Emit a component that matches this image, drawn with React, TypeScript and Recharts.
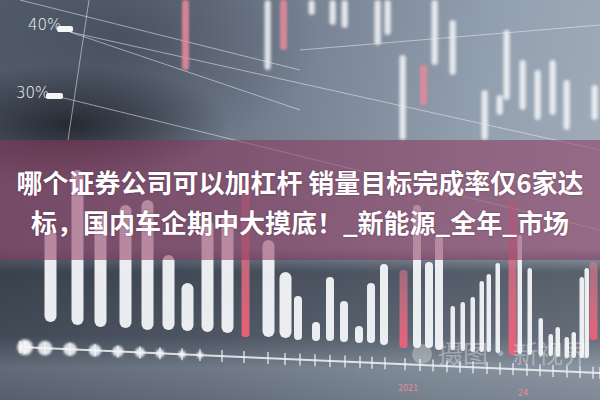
import React from "react";
import { ComposedChart, Bar, Line, XAxis, YAxis } from "recharts";

const W = 600;
const H = 400;

// lower row of bars: x position, top and bottom level (picture y, turned into values below)
const nearX = [50, 77, 100, 125, 147, 168, 187, 207, 227, 268, 285];
const nearTop = [230, 170, 215, 205, 200, 255, 283, 220, 215, 240, 272];
const nearBottom = [322, 325, 327, 328, 330, 330, 331, 332, 333, 337, 338];

const midX = [298, 316, 330, 344, 359, 371, 384, 417, 429, 439];
const midTop = [296, 322, 277, 301, 326, 283, 264, 205, 262, 235];
const midBottom = [340, 341, 341, 342, 343, 343, 345, 348, 348, 350];

const farX = [453, 463, 473, 482, 489, 498, 520, 530, 541, 551, 558, 567, 574, 582, 587];
const farTop = [306, 302, 297, 281, 274, 263, 235, 268, 318, 334, 327, 337, 332, 277, 268];
const farBottom = [350, 351, 352, 352, 352, 353, 354, 355, 356, 356, 357, 358, 358, 358, 358];

const pinkX = [245, 403, 512, 593];
const pinkTop = [180, 270, 200, 262];
const pinkBottom = [337, 348, 355, 340];

// upper (blurred) bars
const upperX = [268, 312, 333, 345, 378, 388, 403, 435, 453, 485, 500, 507, 523, 538, 553, 567, 595];
const upperTop = [0, 0, 0, 0, 0, 0, 55, 0, 20, 90, 95, 30, 60, 70, 60, 80, 85];
const upperBottom = [70, 15, 25, 28, 45, 35, 140, 65, 75, 140, 115, 100, 110, 120, 115, 130, 120];

const upperPinkX = [185, 283, 423];
const upperPinkTop = [0, 0, 65];
const upperPinkBottom = [70, 50, 105];

// thin diagonal guide lines of the photographed panel: [x1, y1, x2, y2]
const guideLines = [
  [70, 32, 600, 150],
  [70, 32, 300, 110],
  [60, 97, 600, 230],
  [20, 0, 300, 70],
  [89, 0, 68, 140],
  [300, 50, 600, 25],
];

// bottom timeline ticks and the blurred dots on its left
const axisTicks = [20, 25, 45, 70, 95, 118, 140, 160, 182, 200, 222, 244, 268, 285, 300, 315, 330, 345, 360, 372, 385, 405, 420, 433, 447, 460, 473, 487, 500, 513, 527, 540, 553, 567, 580, 593, 600];
const axisDots = [25, 45, 70, 95, 118, 140, 160, 182, 200];

const title1 = "哪个证券公司可以加杠杆 销量目标完成率仅6家达";
const title2 = "标，国内车企期中大摸底！_新能源_全年_市场";

const rows = (xs: number[], tops: number[], bottoms: number[]) =>
  xs.map((x, i) => ({ x, range: [H - bottoms[i], H - tops[i]] }));

const axisPy = (x: number) => 347 + ((x - 20) * 26) / 580;
const timelineDots = axisDots.map((x, i) => ({ x, y: H - axisPy(x), r: Math.max(3, 8 - i * 0.6) }));

const seg = (x1: number, y1: number, x2: number, y2: number) => [
  { x: x1, y: H - y1 },
  { x: x2, y: H - y2 },
];

const Blob = (p: any) =>
  p.cx == null ? null : <circle cx={p.cx} cy={p.cy} r={p.payload.r} fill="#f6f7fa" fillOpacity={0.85} />;

const Layer = ({ data, size, fill, radius, opacity, blur, children }: any) => (
  <div style={{ position: "absolute", left: 0, top: 0, filter: blur ? `blur(${blur}px)` : undefined }}>
    <ComposedChart width={W} height={H} data={data} margin={{ top: 0, right: 0, left: 0, bottom: 0 }}>
      <defs>
        <linearGradient id="pinkFill" x1="0" y1="0" x2="0" y2="1">
          <stop offset="0%" stopColor="#f07f95" stopOpacity={0.5} />
          <stop offset="100%" stopColor="#ef5f78" stopOpacity={0.95} />
        </linearGradient>
      </defs>
      <XAxis type="number" dataKey="x" domain={[0, W]} ticks={[0, 150, 300, 450, 600]} hide />
      <YAxis type="number" domain={[0, H]} hide />
      {children}
      {size && (
        <Bar dataKey="range" barSize={size} fill={fill} radius={radius} fillOpacity={opacity} isAnimationActive={false} />
      )}
    </ComposedChart>
  </div>
);

// the slanted timeline of the photographed panel, drawn on top of the bars
const Timeline = () => (
  <svg width={W} height={H} style={{ position: "absolute", left: 0, top: 0, filter: "blur(0.5px)" }}>
    <line x1={20} y1={axisPy(20)} x2={600} y2={axisPy(600)} stroke="#f2f4f7" strokeOpacity={0.85} strokeWidth={2} />
    {axisTicks.map((x) => (
      <line key={x} x1={x} x2={x} y1={axisPy(x) - 6} y2={axisPy(x) + 6} stroke="#f2f4f7" strokeOpacity={0.8} strokeWidth={1.5} />
    ))}
  </svg>
);

const App = () => {
  return (
    <div
      style={{
        position: "absolute",
        left: 0,
        top: 0,
        width: W,
        height: H,
        overflow: "hidden",
        fontFamily: "'Noto Sans CJK SC', 'Noto Sans', sans-serif",
        background:
          "radial-gradient(ellipse 160px 60px at 70px 125px, rgba(20,22,30,0.75), transparent)," +
          "radial-gradient(ellipse 200px 120px at 120px 40px, rgba(40,46,60,0.45), transparent)," +
          "linear-gradient(180deg, rgba(0,0,0,0) 0%, rgba(0,0,0,0) 62%, rgba(30,35,45,0.55) 68%, rgba(40,46,56,0.5) 84%, rgba(105,113,124,0.4) 92%, rgba(75,83,93,0.4) 100%)," +
          "linear-gradient(100deg, #56616f 0%, #717c8c 40%, #93a0af 75%, #a3aebb 100%)",
      }}
    >
      <Layer data={rows(upperX, upperTop, upperBottom)} size={7} fill="#f4f6f9" radius={4} opacity={0.85} blur={1.4} />
      <Layer blur={0.3}>
        {guideLines.map((g, i) => (
          <Line
            key={i}
            data={seg(g[0], g[1], g[2], g[3])}
            dataKey="y"
            stroke="#e8edf4"
            strokeOpacity={0.55}
            strokeWidth={1}
            dot={false}
            isAnimationActive={false}
          />
        ))}
      </Layer>
      <Layer data={rows(upperPinkX, upperPinkTop, upperPinkBottom)} size={7} fill="#e7899c" radius={3} opacity={0.85} blur={0.8} />

      <Layer data={rows(nearX, nearTop, nearBottom)} size={12} fill="#f3f5f8" radius={6} opacity={0.95} blur={0.7} />
      <Layer data={rows(midX, midTop, midBottom)} size={8} fill="#f3f5f8" radius={4} opacity={0.95} blur={0.5} />
      <Layer data={rows(farX, farTop, farBottom)} size={6} fill="#f3f5f8" radius={3} opacity={0.95} blur={0.4} />
      <Layer data={rows(pinkX, pinkTop, pinkBottom)} size={8} fill="url(#pinkFill)" radius={3} opacity={1} blur={0.5} />

      <Timeline />
      <Layer data={timelineDots} blur={1}>
        <Line dataKey="y" stroke="none" dot={<Blob />} isAnimationActive={false} />
      </Layer>

      {/* percentage labels of the photographed panel */}
      <div style={{ position: "absolute", left: 28, top: 16, color: "#f3f5f8", fontSize: 15, fontFamily: "'DejaVu Sans', sans-serif", fontWeight: 300 }}>40%</div>
      <div style={{ position: "absolute", left: 57, top: 26, width: 16, height: 6, background: "#f3f5f8", borderRadius: 2 }} />
      <div style={{ position: "absolute", left: 16, top: 84, color: "#f3f5f8", fontSize: 15, fontFamily: "'DejaVu Sans', sans-serif", fontWeight: 300 }}>30%</div>
      <div style={{ position: "absolute", left: 46, top: 93, width: 17, height: 6, background: "#f3f5f8", borderRadius: 2 }} />

      {/* timeline year labels */}
      <div style={{ position: "absolute", left: 398, top: 381, color: "#e8899b", fontSize: 9, whiteSpace: "nowrap" }}>2021</div>
      <div style={{ position: "absolute", left: 518, top: 386, color: "#e8899b", fontSize: 9, whiteSpace: "nowrap" }}>24</div>

      {/* watermark */}
      <div style={{ position: "absolute", left: 412, top: 344, width: 20, height: 20, borderRadius: 10, background: "rgba(255,255,255,0.3)" }} />
      <div style={{ position: "absolute", left: 438, top: 336, color: "rgba(255,255,255,0.35)", fontSize: 25, lineHeight: "32px", whiteSpace: "nowrap" }}>摄图·新视界</div>

      {/* title band */}
      <div style={{ position: "absolute", left: 0, top: 140, width: W, height: 120, background: "rgba(140,52,92,0.55)" }} />
      <div
        style={{
          position: "absolute",
          left: 0,
          top: 140,
          width: W,
          textAlign: "center",
          color: "#ffffff",
          fontWeight: 700,
          fontSize: 26,
          lineHeight: "40px",
          paddingTop: 22,
          whiteSpace: "nowrap",
          textShadow: "0 0 2px rgba(60,20,40,0.5)",
        }}
      >
        <div>{title1}</div>
        <div>{title2}</div>
      </div>
    </div>
  );
};

export default App;
